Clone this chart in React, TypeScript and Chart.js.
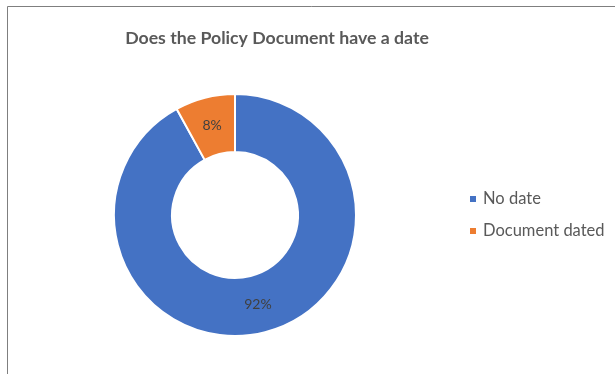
import React, { useEffect, useRef } from "react";
import { Chart, registerables } from "chart.js";

Chart.register(...registerables);

const title = "Does the Policy Document have a date";
const categories = ["No date", "Document dated"];
const values = [92, 8];
const colors = ["#4472C4", "#ED7D31"];

const FONT = "Lato, 'Open Sans', sans-serif";

const decorPlugin = {
  id: "decor",
  beforeDraw(chart: any) {
    const ctx = chart.ctx;
    ctx.save();
    ctx.fillStyle = "#ffffff";
    ctx.fillRect(0, 0, chart.width, chart.height);
    ctx.strokeStyle = "#7f7f7f";
    ctx.lineWidth = 1;
    ctx.beginPath();
    ctx.moveTo(7.5, chart.height);
    ctx.lineTo(7.5, 6.5);
    ctx.lineTo(chart.width, 6.5);
    ctx.stroke();
    // title
    ctx.fillStyle = "#595959";
    ctx.font = `bold 17.7px ${FONT}`;
    ctx.textAlign = "center";
    ctx.textBaseline = "middle";
    ctx.fillText(title, 277, 38);
    ctx.restore();
  },
  afterDraw(chart: any) {
    const ctx = chart.ctx;
    ctx.save();
    const meta = chart.getDatasetMeta(0);
    const total = values.reduce((a, b) => a + b, 0);
    ctx.fillStyle = "#404040";
    ctx.font = `14px ${FONT}`;
    ctx.textAlign = "center";
    ctx.textBaseline = "middle";
    meta.data.forEach((arc: any, i: number) => {
      const p = arc.getCenterPoint();
      const pct = Math.round((values[i] / total) * 100) + "%";
      ctx.fillText(pct, p.x, p.y);
    });
    // legend
    ctx.font = `16.5px ${FONT}`;
    ctx.textAlign = "left";
    categories.forEach((c, i) => {
      const y = 199 + i * 32;
      ctx.fillStyle = colors[i];
      ctx.fillRect(470, y - 3, 6, 6);
      ctx.fillStyle = "#595959";
      ctx.fillText(c, 483, y);
    });
    ctx.restore();
  },
};

export default function App() {
  const ref = useRef<HTMLCanvasElement>(null);
  useEffect(() => {
    const chart = new Chart(ref.current!, {
      type: "doughnut",
      data: {
        labels: categories,
        datasets: [
          {
            data: values,
            backgroundColor: colors,
            borderColor: "#ffffff",
            borderWidth: 2,
          },
        ],
      },
      options: {
        animation: false,
        responsive: false,
        cutout: "52%",
        layout: { padding: { left: 113, right: 258, top: 93, bottom: 37 } },
        plugins: {
          legend: { display: false },
          tooltip: { enabled: false },
          title: { display: false },
        },
      },
      plugins: [decorPlugin],
    });
    return () => chart.destroy();
  }, []);
  return (
    <div style={{ position: "fixed", left: 0, top: 0, width: 615, height: 374, background: "#fff" }}>
      <canvas ref={ref} width={615} height={374} style={{ display: "block" }} />
    </div>
  );
}
